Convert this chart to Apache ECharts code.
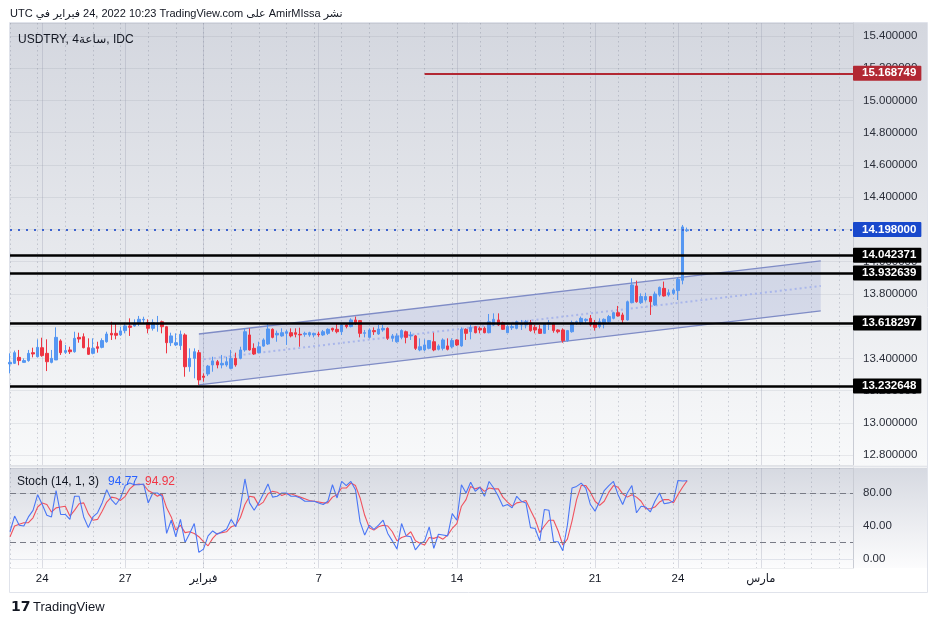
<!DOCTYPE html>
<html><head><meta charset="utf-8">
<script src="https://cdn.jsdelivr.net/npm/echarts/dist/echarts.min.js"></script>
<style>html,body{margin:0;padding:0;background:#fff;}#c{width:938px;height:627px;}</style>
</head><body><div id="c"></div>
<script>
// ---- data ----
const ohlc = [
[13.366,13.376,13.308,13.432],[13.370,13.436,13.366,13.449],[13.407,13.387,13.358,13.453],[13.376,13.387,13.374,13.401],[13.387,13.432,13.380,13.453],
[13.436,13.428,13.407,13.467],[13.411,13.469,13.407,13.519],[13.467,13.418,13.411,13.529],[13.432,13.380,13.322,13.519],[13.376,13.401,13.370,13.453],
[13.391,13.531,13.391,13.593],[13.509,13.436,13.422,13.519],[13.438,13.449,13.428,13.484],[13.453,13.442,13.428,13.473],[13.442,13.525,13.436,13.566],
[13.531,13.521,13.498,13.560],[13.535,13.467,13.463,13.556],[13.467,13.426,13.422,13.525],[13.432,13.463,13.426,13.525],[13.473,13.463,13.436,13.504],
[13.469,13.511,13.463,13.525],[13.504,13.552,13.498,13.566],[13.556,13.546,13.515,13.628],[13.556,13.544,13.519,13.618],[13.546,13.571,13.540,13.597],
[13.573,13.602,13.556,13.622],[13.602,13.593,13.540,13.649],[13.602,13.618,13.597,13.643],[13.618,13.643,13.602,13.664],[13.639,13.643,13.618,13.659],
[13.622,13.587,13.556,13.643],[13.587,13.622,13.573,13.643],[13.610,13.618,13.566,13.664],[13.628,13.597,13.556,13.635],[13.597,13.498,13.432,13.602],
[13.498,13.540,13.477,13.560],[13.484,13.498,13.477,13.556],[13.480,13.550,13.453,13.573],[13.546,13.349,13.287,13.556],[13.349,13.401,13.318,13.463],
[13.401,13.442,13.277,13.463],[13.436,13.267,13.236,13.453],[13.291,13.283,13.256,13.308],[13.304,13.353,13.291,13.360],[13.360,13.385,13.318,13.411],
[13.380,13.360,13.339,13.391],[13.360,13.370,13.339,13.422],[13.360,13.380,13.349,13.411],[13.339,13.401,13.333,13.453],[13.401,13.360,13.349,13.436],
[13.401,13.453,13.395,13.473],[13.453,13.566,13.442,13.587],[13.546,13.453,13.449,13.587],[13.463,13.428,13.422,13.494],[13.436,13.473,13.432,13.504],
[13.477,13.515,13.473,13.525],[13.490,13.583,13.484,13.614],[13.581,13.531,13.525,13.587],[13.546,13.556,13.504,13.573],[13.540,13.560,13.535,13.587],
[13.556,13.566,13.484,13.577],[13.560,13.540,13.531,13.587],[13.560,13.550,13.531,13.587],[13.550,13.546,13.473,13.591],[13.550,13.556,13.535,13.566],
[13.546,13.560,13.535,13.566],[13.546,13.556,13.531,13.560],[13.552,13.548,13.535,13.566],[13.546,13.566,13.540,13.577],[13.556,13.581,13.546,13.587],
[13.587,13.577,13.566,13.591],[13.581,13.566,13.556,13.614],[13.566,13.608,13.546,13.618],[13.608,13.598,13.587,13.614],[13.598,13.639,13.593,13.649],
[13.639,13.618,13.608,13.660],[13.635,13.556,13.531,13.639],[13.556,13.560,13.531,13.577],[13.531,13.577,13.525,13.587],[13.573,13.566,13.546,13.593],
[13.552,13.583,13.546,13.608],[13.577,13.587,13.566,13.608],[13.587,13.525,13.515,13.593],[13.525,13.540,13.504,13.552],[13.504,13.540,13.498,13.556],
[13.531,13.573,13.519,13.581],[13.566,13.531,13.494,13.573],[13.540,13.546,13.515,13.566],[13.540,13.463,13.453,13.546],[13.453,13.473,13.445,13.525],
[13.453,13.484,13.445,13.519],[13.463,13.511,13.457,13.515],[13.504,13.453,13.445,13.560],[13.457,13.478,13.450,13.488],[13.463,13.515,13.450,13.525],
[13.478,13.457,13.450,13.525],[13.473,13.511,13.463,13.525],[13.515,13.484,13.478,13.519],[13.478,13.581,13.473,13.593],[13.581,13.556,13.515,13.587],
[13.566,13.593,13.519,13.608],[13.598,13.560,13.556,13.602],[13.587,13.577,13.556,13.598],[13.587,13.560,13.556,13.598],[13.560,13.628,13.556,13.676],
[13.608,13.643,13.602,13.680],[13.639,13.608,13.602,13.680],[13.622,13.581,13.577,13.628],[13.560,13.598,13.560,13.608],[13.591,13.598,13.577,13.618],
[13.587,13.628,13.581,13.635],[13.608,13.618,13.577,13.639],[13.608,13.628,13.587,13.639],[13.622,13.573,13.566,13.639],[13.593,13.577,13.556,13.608],
[13.583,13.556,13.552,13.608],[13.556,13.614,13.552,13.618],[13.614,13.622,13.577,13.639],[13.618,13.573,13.560,13.622],[13.577,13.566,13.556,13.581],
[13.577,13.511,13.498,13.587],[13.511,13.573,13.504,13.577],[13.566,13.622,13.560,13.635],[13.618,13.628,13.608,13.635],[13.618,13.649,13.608,13.660],
[13.635,13.643,13.618,13.649],[13.649,13.608,13.598,13.670],[13.622,13.593,13.573,13.639],[13.598,13.628,13.587,13.649],[13.614,13.643,13.587,13.649],
[13.628,13.660,13.618,13.670],[13.649,13.684,13.643,13.690],[13.684,13.664,13.660,13.726],[13.670,13.639,13.618,13.684],[13.639,13.752,13.635,13.759],
[13.746,13.856,13.742,13.897],[13.850,13.752,13.746,13.883],[13.746,13.784,13.738,13.804],[13.763,13.784,13.752,13.808],[13.784,13.752,13.670,13.788],
[13.732,13.800,13.726,13.815],[13.794,13.841,13.784,13.846],[13.835,13.788,13.784,13.877],[13.794,13.808,13.784,13.829],[13.804,13.825,13.794,13.835],
[13.821,13.891,13.763,13.903],[13.885,14.216,13.860,14.228],[14.192,14.198,14.185,14.212]
];
const stochK = [
33,52,41,40,51,59,78,66,53,51, 83,54,54,48,76,76,51,38,51,56, 68,84,72,66,74,89,92,90,90,91,
68,80,80,76,31,47,27,48,20,31, 43,8,12,28,34,30,33,36,48,39, 63,97,68,59,68,79,91,75,76,80,
80,76,76,74,70,70,70,68,66,70, 90,74,94,89,94,84,45,29,41,36, 41,47,31,22,12,43,28,27,11,18,
22,39,13,30,29,28,55,47,90,80, 93,82,87,76,94,86,76,64,66,62, 76,70,68,38,37,22,60,59,21,21,
10,41,86,88,92,86,66,58,70,83, 89,94,78,66,80,89,56,64,63,57, 70,80,67,68,70,95.2,94.6,94.77
];
const stochD = [
27,40,42,44,44,50,63,68,66,57, 62,63,64,52,59,67,68,55,47,48, 58,69,75,74,71,76,85,90,91,90,
83,80,76,79,62,51,35,41,32,33, 31,27,21,16,25,31,32,33,39,41, 50,66,76,75,65,69,79,82,81,77,
79,79,77,75,73,71,70,69,68,68, 75,78,86,86,92,89,74,53,38,35, 39,41,40,33,22,26,28,33,22,19,
17,26,25,27,24,29,37,43,64,72, 88,85,87,82,86,85,85,75,69,64, 68,69,71,59,48,32,40,47,47,34,
17,24,46,72,89,89,81,70,65,70, 81,89,87,79,75,78,75,70,61,61, 63,69,72,72,68,78,87,94.92
];
const levelLines = [14.042371, 13.932639, 13.618297, 13.232648];
const targetLevel = 15.168749;
const targetStartIdx = 90;
const lastPrice = 14.198;
const channelIdx = [41, 176];
const channelTop = [13.552, 14.005];
const channelBottom = [13.236, 13.695];
const channelMid = [13.391, 13.850];
const stochBands = [80, 20];
const xTickIdx = [7, 25, 42, 67, 97, 127, 145, 163];
const xTickText = ['24', '27', 'فبراير', '7', '14', '21', '24', 'مارس'];
const slotCount = 184;

// ---- chart ----
const cats = Array.from({length: slotCount}, (_, i) => String(i));
const FONT = '"Liberation Sans", "DejaVu Sans", sans-serif';
const GL = 10, GW = 843;
const UP = '#5597f2', DOWN = '#ee3543';
const chart = echarts.init(document.getElementById('c'));

function boxLabel(bg) {
  return {show: true, position: 'end', distance: 0, formatter: '{b}', color: '#fff', backgroundColor: bg,
    fontFamily: FONT, fontSize: 11.5, fontWeight: 'bold', padding: [2, 5, 1, 9], borderRadius: 1};
}
const priceMarks = levelLines.map(v => ({name: v.toFixed(6), yAxis: v,
  lineStyle: {color: '#000', width: 2.5, type: 'solid'}, label: boxLabel('#000')}));
priceMarks.push([{name: targetLevel.toFixed(6), coord: [targetStartIdx, targetLevel]}, {coord: [slotCount - 1, targetLevel]}]);
priceMarks[priceMarks.length - 1][0].lineStyle = {color: '#b22833', width: 2, type: 'solid'};
priceMarks[priceMarks.length - 1][0].label = boxLabel('#b22833');
priceMarks.push({name: lastPrice.toFixed(6), yAxis: lastPrice,
  lineStyle: {color: '#3d63cf', width: 2, type: [2, 6]}, label: boxLabel('#1848cc')});

const vDotted = {show: true, interval: (i) => i % 6 === 0, lineStyle: {color: 'rgba(110,115,135,0.3)', width: 1, type: [1.5, 3]}};
const vSolid = {show: true, interval: (i) => xTickIdx.indexOf(i) >= 0, lineStyle: {color: 'rgba(140,145,165,0.28)', width: 1, type: 'solid'}};
function xAx(grid, split, extra) {
  return Object.assign({type: 'category', gridIndex: grid, data: cats, boundaryGap: false,
    axisLine: {show: false}, axisTick: {show: false}, axisLabel: {show: false}, splitLine: split}, extra || {});
}
const pane = (top, h, c0, c1) => ({type: 'rect', z: -10, shape: {x: 10, y: top, width: 917, height: h},
  style: {fill: {type: 'linear', x: 0, y: 0, x2: 0, y2: 1, colorStops: [{offset: 0, color: c0}, {offset: 1, color: c1}]}}});

chart.setOption({
  animation: false,
  backgroundColor: '#ffffff',
  grid: [
    {left: GL, top: 23, width: GW, height: 442, containLabel: false, outerBoundsMode: 'none'},
    {left: GL, top: 468, width: GW, height: 100, containLabel: false, outerBoundsMode: 'none'}
  ],
  xAxis: [
    xAx(0, vDotted),
    xAx(0, vSolid),
    xAx(1, vDotted, {axisLine: {show: true, lineStyle: {color: '#e0e3eb'}},
      axisLabel: {show: true, interval: (i) => xTickIdx.indexOf(i) >= 0, margin: 5,
        formatter: (v, i) => { const k = xTickIdx.indexOf(Number(v)); return k >= 0 ? xTickText[k] : ''; },
        color: '#131722', fontFamily: FONT, fontSize: 11.5}}),
    xAx(1, vSolid)
  ],
  yAxis: [
    {type: 'value', gridIndex: 0, position: 'right', min: 12.7395, max: 15.4806, minInterval: 0.2, maxInterval: 0.2,
      axisLine: {show: true, lineStyle: {color: '#c9ccd4'}}, axisTick: {show: false},
      axisLabel: {formatter: v => v.toFixed(6), color: '#2a2e39', fontFamily: FONT, fontSize: 11.5, margin: 10,
        showMinLabel: false, showMaxLabel: false},
      splitLine: {show: true, lineStyle: {color: 'rgba(110,115,135,0.12)', width: 1}}},
    {type: 'value', gridIndex: 1, position: 'right', min: -10.9, max: 110.3, minInterval: 40, maxInterval: 40,
      axisLine: {show: true, lineStyle: {color: '#c9ccd4'}}, axisTick: {show: false},
      axisLabel: {formatter: v => v.toFixed(2), color: '#2a2e39', fontFamily: FONT, fontSize: 11.5, margin: 10,
        showMinLabel: false, showMaxLabel: false},
      splitLine: {show: true, lineStyle: {color: 'rgba(110,115,135,0.12)', width: 1}}}
  ],
  series: [
    {type: 'custom', xAxisIndex: 0, yAxisIndex: 0, z: 1, silent: true,
      data: [[channelIdx[0], channelTop[0]]], encode: {x: 0, y: 1},
      renderItem: function (params, api) {
        const p = (i, v) => api.coord([i, v]);
        const tl = p(channelIdx[0], channelTop[0]), tr = p(channelIdx[1], channelTop[1]);
        const bl = p(channelIdx[0], channelBottom[0]), br = p(channelIdx[1], channelBottom[1]);
        const ml = p(channelIdx[0], channelMid[0]), mr = p(channelIdx[1], channelMid[1]);
        return {type: 'group', children: [
          {type: 'polygon', shape: {points: [tl, tr, br, bl]}, style: {fill: 'rgba(92,112,190,0.16)'}},
          {type: 'line', shape: {x1: tl[0], y1: tl[1], x2: tr[0], y2: tr[1]}, style: {stroke: '#7f8cc6', lineWidth: 1.3}},
          {type: 'line', shape: {x1: bl[0], y1: bl[1], x2: br[0], y2: br[1]}, style: {stroke: '#7f8cc6', lineWidth: 1.3}},
          {type: 'line', shape: {x1: ml[0], y1: ml[1], x2: mr[0], y2: mr[1]}, style: {stroke: '#a9b6ea', lineWidth: 2, lineDash: [2, 3]}}
        ]};
      }},
    {type: 'candlestick', xAxisIndex: 0, yAxisIndex: 0, z: 3, data: ohlc, barWidth: 3,
      itemStyle: {color: UP, color0: DOWN, borderColor: UP, borderColor0: DOWN, borderWidth: 1},
      markLine: {silent: true, symbol: ['none', 'none'], animation: false, data: priceMarks}},
    {type: 'line', xAxisIndex: 2, yAxisIndex: 1, data: stochK, showSymbol: false, z: 4,
      lineStyle: {color: '#4a76f5', width: 1.1},
      markLine: {silent: true, symbol: ['none', 'none'], animation: false, label: {show: false},
        lineStyle: {color: '#787b86', width: 1, type: [6, 4]}, data: stochBands.map(v => ({yAxis: v}))}},
    {type: 'line', xAxisIndex: 2, yAxisIndex: 1, data: stochD, showSymbol: false, z: 3,
      lineStyle: {color: '#f0525e', width: 1.1}}
  ],
  graphic: [
    pane(23, 442, '#d4d7df', '#f8f9fa'),
    pane(468, 100, '#d6d9e1', '#fcfcfd'),
    {type: 'rect', z: -9, shape: {x: 9.5, y: 22.5, width: 918, height: 570}, style: {fill: 'none', stroke: '#e0e3eb', lineWidth: 1}},
    {type: 'rect', z: -9, shape: {x: 10, y: 465.5, width: 917, height: 2}, style: {fill: '#e3e5ea'}},
    {type: 'text', z: 50, left: 10, top: 8, style: {
      text: 'UTC {a|في} {a|فبراير} 24, 2022 10:23 TradingView.com {a|على} AmirMIssa {a|نشر}',
      fill: '#131722', font: '11px ' + FONT, rich: {a: {fill: '#131722', font: '11px ' + FONT}}}},
    {type: 'text', z: 50, left: 18, top: 34, style: {
      text: 'USDTRY, 4{a|ساعة}, IDC', fill: '#131722', font: '12px ' + FONT,
      rich: {a: {fill: '#131722', font: '12px ' + FONT}}}},
    {type: 'text', z: 50, left: 17, top: 476, style: {text: 'Stoch (14, 1, 3)', fill: '#131722', font: '12px ' + FONT}},
    {type: 'text', z: 50, left: 108, top: 476, style: {text: stochK[stochK.length - 1].toFixed(2), fill: '#2962ff', font: '12px ' + FONT}},
    {type: 'text', z: 50, left: 145, top: 476, style: {text: stochD[stochD.length - 1].toFixed(2), fill: '#f23645', font: '12px ' + FONT}},
    {type: 'text', z: 50, left: 11, top: 600, style: {text: '17', fill: '#131722', font: 'bold 14px "DejaVu Sans", sans-serif'}},
    {type: 'text', z: 50, left: 33, top: 601, style: {text: 'TradingView', fill: '#131722', font: '13px ' + FONT}}
  ]
});
</script></body></html>
